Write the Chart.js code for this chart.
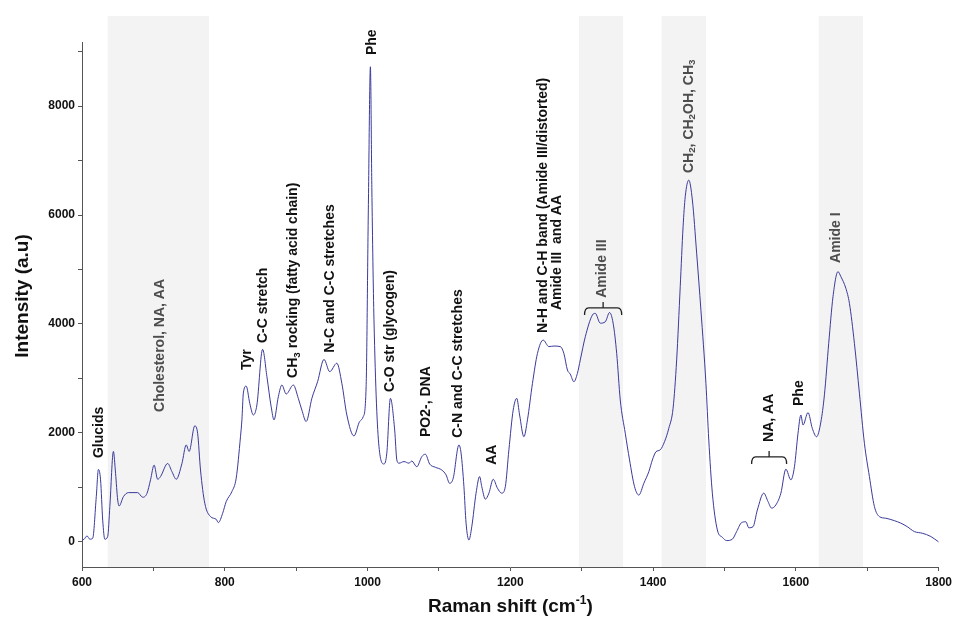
<!DOCTYPE html>
<html>
<head>
<meta charset="utf-8">
<script src="https://cdn.jsdelivr.net/npm/chart.js@4.4.1/dist/chart.umd.min.js"></script>
<style>
  html, body { margin: 0; padding: 0; background: #fff; }
  #wrap { width: 956px; height: 618px; }
</style>
</head>
<body>
<div id="wrap"><canvas id="ramanChart" width="956" height="618"></canvas></div>
<script>
// Raman spectrum, values
const ramanShift = [
  600, 603, 607, 611, 615, 620, 623, 626, 629, 632, 636, 639, 644, 647, 650, 652, 658, 665, 678, 685,
  691, 696, 701, 706, 710, 720, 726, 732, 740, 746, 750, 758, 762, 766, 772, 780, 788, 791, 797, 802,
  810, 816, 822, 824, 826, 830, 835, 840, 845, 853, 859, 865, 869, 875, 880, 886, 896, 903, 908, 914,
  922, 930, 939, 947, 957, 964, 971, 981, 989, 994, 998, 1001, 1004, 1006, 1009, 1016, 1023, 1027, 1032, 1038,
  1041, 1044, 1051, 1058, 1062, 1069, 1076, 1081, 1087, 1095, 1104, 1110, 1115, 1120, 1128, 1131, 1135, 1138, 1142, 1146,
  1152, 1157, 1160, 1165, 1170, 1176, 1182, 1188, 1193, 1198, 1204, 1209, 1213, 1219, 1224, 1231, 1238, 1246, 1254, 1261,
  1270, 1275, 1280, 1284, 1289, 1294, 1298, 1305, 1315, 1319, 1326, 1333, 1339, 1344, 1349, 1354, 1361, 1367, 1374, 1380,
  1387, 1394, 1399, 1404, 1410, 1416, 1422, 1428, 1433, 1438, 1442, 1445, 1450, 1455, 1461, 1467, 1474, 1478, 1483, 1490,
  1497, 1503, 1511, 1517, 1524, 1530, 1534, 1540, 1546, 1555, 1561, 1566, 1572, 1579, 1586, 1593, 1598, 1603, 1607, 1610,
  1617, 1623, 1629, 1635, 1640, 1646, 1652, 1659, 1663, 1670, 1675, 1682, 1689, 1696, 1703, 1710, 1717, 1726, 1738, 1747,
  1756, 1766, 1777, 1789, 1800
];
const intensity = [
  30, 50, 110, 50, 68, 830, 1330, 1140, 400, 50, 100, 650, 1660, 1260, 770, 660, 830, 905, 905, 820,
  890, 1140, 1410, 1150, 1200, 1440, 1290, 1150, 1440, 1780, 1660, 2130, 1990, 1320, 710, 465, 415, 355, 525, 740,
  925, 1170, 1930, 2240, 2730, 2860, 2545, 2330, 2515, 3535, 3035, 2480, 2240, 2665, 2880, 2715, 2880, 2635, 2420, 2210,
  2635, 2940, 3350, 3125, 3280, 2910, 2330, 1945, 2210, 2300, 2850, 6000, 8720, 6500, 4075, 1750, 1430, 1630, 2635, 2055,
  1505, 1445, 1475, 1445, 1485, 1380, 1565, 1610, 1430, 1370, 1320, 1230, 1075, 1170, 1780, 1630, 1015, 345, 35, 280,
  895, 1200, 1015, 785, 895, 1150, 985, 895, 1015, 1690, 2420, 2635, 2330, 1930, 2240, 2910, 3460, 3705, 3585, 3595,
  3585, 3460, 3155, 3080, 2940, 3095, 3340, 3765, 4165, 4195, 4015, 4040, 4210, 4015, 3460, 2605, 1995, 1505, 1015, 860,
  1075, 1290, 1505, 1655, 1690, 1840, 2085, 2455, 3340, 4685, 5785, 6335, 6640, 6275, 5300, 4250, 2910, 1870, 895, 220,
  85, 25, 50, 190, 355, 370, 260, 280, 585, 895, 740, 620, 680, 895, 1335, 1140, 1380, 1995, 2330, 2145,
  2375, 2085, 1930, 2200, 2700, 3645, 4500, 4960, 4870, 4655, 4380, 3645, 2730, 1810, 1200, 650, 465, 435, 390, 345,
  280, 190, 160, 100, 0
];

// shaded regions (cm-1)
const bandRanges = [[636, 778], [1296, 1358], [1412, 1474], [1632, 1694]];

// peak assignments: text, anchor shift, anchor intensity (where the rotated text starts)
const peakLabels = [
  { text: 'Glucids', x: 624, y: 1540 },
  { text: 'Cholesterol, NA, AA', x: 709, y: 2385, gray: true },
  { text: 'Tyr', x: 831, y: 3155 },
  { text: 'C-C stretch', x: 854, y: 3650 },
  { text: 'CH_3 rocking (fatty acid chain)', x: 896, y: 3010 },
  { text: 'N-C and C-C stretches', x: 948, y: 3470 },
  { text: 'Phe', x: 1006, y: 8935 },
  { text: 'C-O str (glycogen)', x: 1032, y: 2750 },
  { text: 'PO2-, DNA', x: 1082, y: 1925 },
  { text: 'C-N and C-C stretches', x: 1127, y: 1910 },
  { text: 'AA', x: 1175, y: 1415 },
  { text: 'N-H and C-H band (Amide III/distorted)', x: 1246, y: 3835 },
  { text: 'Amide III  and AA', x: 1266, y: 4255 },
  { text: 'Amide III', x: 1328, y: 4480, gray: true },
  { text: 'CH_2, CH_2OH, CH_3', x: 1450, y: 6770, gray: true },
  { text: 'Amide I', x: 1657, y: 5120, gray: true },
  { text: 'NA, AA', x: 1562, y: 1835 },
  { text: 'Phe', x: 1604, y: 2495 }
];

// brackets: left, right, bar level
const brackets = [
  { from: 1304, to: 1356, y: 4295 },
  { from: 1538, to: 1587, y: 1560 }
];

const yTickValues = [0, 1000, 2000, 3000, 4000, 5000, 6000, 7000, 8000, 9000];

const FONT = "'Liberation Sans', Arial, sans-serif";

function drawRich(ctx, str, size, color) {
  // "_2" -> subscript 2
  const parts = str.split(/_(\d)/);
  let x = 0;
  parts.forEach((p, i) => {
    if (!p) return;
    const sub = i % 2 === 1;
    ctx.font = 'bold ' + (sub ? size * 0.7 : size) + 'px ' + FONT;
    ctx.fillStyle = color;
    ctx.fillText(p, x, sub ? size * 0.28 : 0);
    x += ctx.measureText(p).width;
  });
}

const bandsPlugin = {
  id: 'bands',
  beforeDraw(chart) {
    const { ctx, chartArea, scales } = chart;
    ctx.save();
    ctx.fillStyle = '#f3f3f3';
    bandRanges.forEach(([a, b]) => {
      const x1 = scales.x.getPixelForValue(a);
      const x2 = scales.x.getPixelForValue(b);
      ctx.fillRect(x1, chartArea.top - 26, x2 - x1, chartArea.bottom - chartArea.top + 26);
    });
    ctx.restore();
  }
};

const labelsPlugin = {
  id: 'peakLabels',
  afterDraw(chart) {
    const { ctx, scales } = chart;
    ctx.save();
    ctx.textBaseline = 'middle';
    ctx.textAlign = 'left';
    peakLabels.forEach(l => {
      const px = scales.x.getPixelForValue(l.x);
      const py = scales.y.getPixelForValue(l.y);
      ctx.save();
      ctx.translate(px, py);
      ctx.rotate(-Math.PI / 2);
      drawRich(ctx, l.text, 14, l.gray ? '#4d4d4d' : '#111');
      ctx.restore();
    });

    ctx.strokeStyle = '#222';
    ctx.lineWidth = 1.3;
    brackets.forEach(b => {
      const x1 = scales.x.getPixelForValue(b.from);
      const x2 = scales.x.getPixelForValue(b.to);
      const xm = (x1 + x2) / 2;
      const y = scales.y.getPixelForValue(b.y);
      ctx.beginPath();
      ctx.moveTo(x1, y + 7);
      ctx.quadraticCurveTo(x1, y, x1 + 4, y);
      ctx.lineTo(x2 - 4, y);
      ctx.quadraticCurveTo(x2, y, x2, y + 7);
      ctx.moveTo(xm, y);
      ctx.lineTo(xm, y - 6);
      ctx.stroke();
    });

    // axis titles
    ctx.fillStyle = '#111';
    ctx.textAlign = 'center';
    ctx.save();
    ctx.translate(23, 296);
    ctx.rotate(-Math.PI / 2);
    ctx.font = 'bold 19px ' + FONT;
    ctx.fillText('Intensity (a.u)', 0, 0);
    ctx.restore();

    const big = 'bold 19px ' + FONT, small = 'bold 12px ' + FONT;
    ctx.textAlign = 'left';
    ctx.font = big; const w1 = ctx.measureText('Raman shift (cm').width;
    ctx.font = small; const w2 = ctx.measureText('-1').width;
    ctx.font = big; const w3 = ctx.measureText(')').width;
    let tx = (chart.chartArea.left + chart.chartArea.right) / 2 - (w1 + w2 + w3) / 2;
    const ty = 607;
    ctx.font = big; ctx.fillText('Raman shift (cm', tx, ty); tx += w1;
    ctx.font = small; ctx.fillText('-1', tx, ty - 6); tx += w2;
    ctx.font = big; ctx.fillText(')', tx, ty);
    ctx.restore();
  }
};

new Chart(document.getElementById('ramanChart'), {
  type: 'line',
  data: {
    datasets: [{
      data: ramanShift.map((x, i) => ({ x, y: intensity[i] })),
      borderColor: '#3a3a9c',
      borderWidth: 1,
      pointRadius: 0,
      tension: 0.35,
      cubicInterpolationMode: 'monotone',
      fill: false
    }]
  },
  options: {
    responsive: false,
    animation: false,
    layout: { padding: { left: 0, top: 42, right: 17, bottom: 0 } },
    plugins: { legend: { display: false }, tooltip: { enabled: false } },
    scales: {
      x: {
        type: 'linear', min: 600, max: 1800,
        border: { color: '#555', width: 1 },
        grid: { drawOnChartArea: false, drawTicks: true, tickLength: 4, color: '#555' },
        ticks: {
          stepSize: 100, autoSkip: false, maxRotation: 0, padding: 4, color: '#111',
          font: { family: FONT, size: 12, weight: 'bold' },
          callback: v => (v % 200 === 0 ? v : '')
        },
        afterFit: s => { s.height = 51; }
      },
      y: {
        type: 'linear', min: -460, max: 9175,
        border: { color: '#555', width: 1 },
        grid: { drawOnChartArea: false, drawTicks: true, tickLength: 4, color: '#555' },
        ticks: {
          autoSkip: false, padding: 3, color: '#111',
          font: { family: FONT, size: 12, weight: 'bold' },
          callback: v => (v % 2000 === 0 ? String(v) : '')
        },
        afterBuildTicks: s => { s.ticks = yTickValues.map(v => ({ value: v })); },
        afterFit: s => { s.width = 82; }
      }
    }
  },
  plugins: [bandsPlugin, labelsPlugin]
});
</script>
</body>
</html>
